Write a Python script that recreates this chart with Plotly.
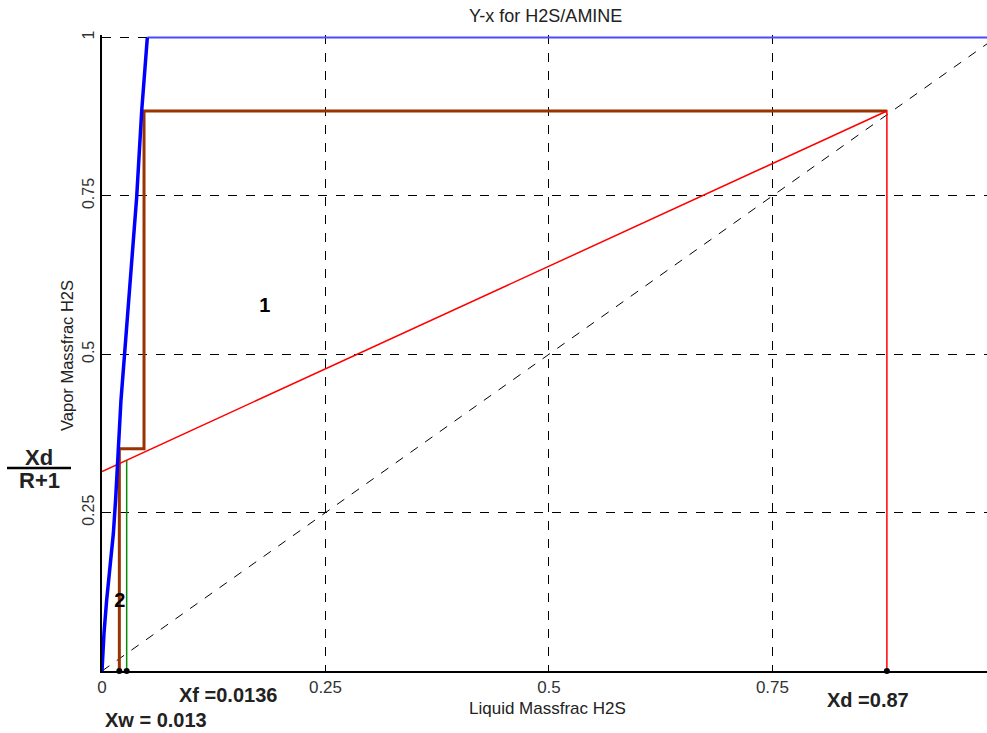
import plotly.graph_objects as go

# Equilibrium curve (blue)
eq_x = [0, 0.0022, 0.0052, 0.009, 0.0127, 0.0152, 0.0171, 0.019, 0.0212, 0.025, 0.032, 0.0388, 0.0444, 0.047, 0.049, 0.0507]
eq_y = [0, 0.059, 0.112, 0.165, 0.217, 0.27, 0.322, 0.375, 0.427, 0.496, 0.625, 0.748, 0.884, 0.927, 0.964, 1.0]
eq_top_x = [0.0507, 1.0]
eq_top_y = [1.0, 1.0]

# Diagonal y = x
diag_x = [0, 1]
diag_y = [0, 1]

# Stage steps (brown)
step_x = [0.0194, 0.0194, 0.047, 0.047, 0.878]
step_y = [0.0, 0.351, 0.351, 0.884, 0.884]

# Operating line (red)
op_x = [0.0, 0.878, 0.878]
op_y = [0.315, 0.884, 0.0]

# Feed line (green)
feed_x = [0.0276, 0.0276]
feed_y = [0.0, 0.333]

# Markers on x-axis
mark_x = [0.0194, 0.0276, 0.878]
mark_y = [0, 0, 0]

# Stage numbers
stage_labels = ["1", "2"]
stage_x = [0.182, 0.020]
stage_y = [0.574, 0.109]

x_ticks = [0, 0.25, 0.5, 0.75]
x_tick_text = ["0", "0.25", "0.5", "0.75"]
y_ticks = [0.25, 0.5, 0.75, 1]
y_tick_text = ["0.25", "0.5", "0.75", "1"]

fig = go.Figure()
fig.add_trace(go.Scatter(x=diag_x, y=diag_y, mode="lines",
                         line=dict(color="black", width=1, dash="dash")))
fig.add_trace(go.Scatter(x=eq_top_x, y=eq_top_y, mode="lines",
                         line=dict(color="#4a4aff", width=2)))
fig.add_trace(go.Scatter(x=feed_x, y=feed_y, mode="lines",
                         line=dict(color="#0a8a0a", width=1.5)))
fig.add_trace(go.Scatter(x=step_x, y=step_y, mode="lines",
                         line=dict(color="#993300", width=3)))
fig.add_trace(go.Scatter(x=op_x, y=op_y, mode="lines",
                         line=dict(color="#ff0000", width=1.5)))
fig.add_trace(go.Scatter(x=eq_x, y=eq_y, mode="lines",
                         line=dict(color="#0000ff", width=3.5)))
fig.add_trace(go.Scatter(x=mark_x, y=mark_y, mode="markers", cliponaxis=False,
                         marker=dict(color="black", size=6)))
fig.add_trace(go.Scatter(x=stage_x, y=stage_y, mode="text", text=stage_labels,
                         textfont=dict(family="Liberation Sans", size=20, color="black"),
                         texttemplate="<b>%{text}</b>"))

W, H = 885, 636
def px(x):
    return (x - 102) / W
def py(y):
    return (671 - y) / H

annots = [
    dict(text="Y-x for H2S/AMINE", x=px(545), y=py(16), size=18, bold=False, angle=0),
    dict(text="Liquid Massfrac H2S", x=px(547), y=py(708), size=17, bold=False, angle=0),
    dict(text="Vapor Massfrac H2S", x=px(67), y=py(356), size=16.5, bold=False, angle=-90),
    dict(text="Xf =0.0136", x=px(228), y=py(695), size=20, bold=True, angle=0),
    dict(text="Xw = 0.013", x=px(156), y=py(720), size=20, bold=True, angle=0),
    dict(text="Xd =0.87", x=px(868), y=py(700), size=20, bold=True, angle=0),
    dict(text="Xd", x=px(39), y=py(457), size=22, bold=True, angle=0),
    dict(text="R+1", x=px(39), y=py(480), size=22, bold=True, angle=0),
]
for a in annots:
    t = "<b>%s</b>" % a["text"] if a["bold"] else a["text"]
    fig.add_annotation(text=t, x=a["x"], y=a["y"], xref="paper", yref="paper",
                       xanchor="center", yanchor="middle", showarrow=False,
                       textangle=a["angle"],
                       font=dict(family="Liberation Sans", size=a["size"],
                                 color="#222222"))

fig.add_shape(type="line", xref="paper", yref="paper",
              x0=px(7), x1=px(71), y0=py(468), y1=py(468),
              line=dict(color="black", width=2.5))

fig.update_layout(
    width=987, height=733,
    margin=dict(l=102, r=0, t=35, b=62),
    paper_bgcolor="white", plot_bgcolor="white",
    showlegend=False,
    xaxis=dict(range=[0, 0.99], tickvals=x_ticks, ticktext=x_tick_text,
               showgrid=True, gridcolor="black", griddash="dash", gridwidth=1,
               zeroline=False, showline=True, linecolor="black", linewidth=1.5,
               ticks="", tickfont=dict(family="Liberation Sans", size=17, color="#333333")),
    yaxis=dict(range=[0, 1.004], tickvals=y_ticks, ticktext=y_tick_text,
               tickangle=-90,
               showgrid=True, gridcolor="black", griddash="dash", gridwidth=1,
               zeroline=False, showline=True, linecolor="black", linewidth=1.5,
               ticks="", tickfont=dict(family="Liberation Sans", size=16, color="#333333")),
)

fig.write_html("out.html")
